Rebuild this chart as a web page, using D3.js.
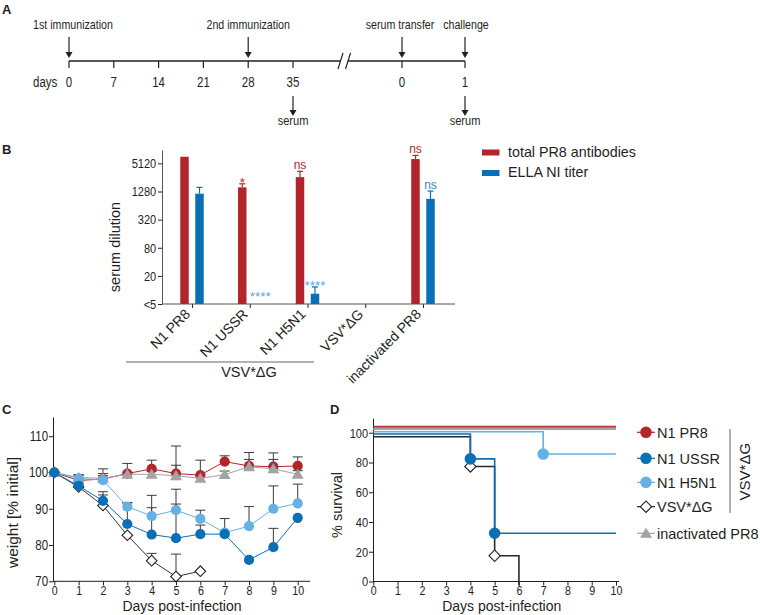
<!DOCTYPE html>
<html><head><meta charset="utf-8">
<script src="https://cdn.jsdelivr.net/npm/d3@7"></script>
<style>body{margin:0;background:#fff} svg{display:block}</style>
</head><body><svg id="c" width="760" height="615"></svg>
<script>
// ================= DATA =================
// Panel A – timeline
const timelineLeftDays = [0, 7, 14, 21, 28, 35];
const timelineRightDays = [0, 1];
const topEventLabels = ["1st immunization", "2nd immunization", "serum transfer", "challenge"];
const topEventPhase = ["L", "L", "R", "R"];
const topEventDays = [0, 28, 0, 1];
const serumPhase = ["L", "R"];
const serumDays = [35, 1];

// Panel B – serum titers
const groups = ["N1 PR8", "N1 USSR", "N1 H5N1", "VSV*ΔG", "inactivated PR8"];
const totalPR8 = [7100, 1570, 2600, null, 6330];
const totalPR8Upper = [null, 1870, 3460, null, 7590];
const ellaNI = [1150, null, 8.3, null, 890];
const ellaNIUpper = [1570, null, 11.6, null, 1310];
const totalSig = [null, "*", "ns", null, "ns"];
const ellaSig = [null, "****", "****", null, "ns"];
const titerTicks = [5, 20, 80, 320, 1280, 5120];
const titerTickLabels = ["<5", "20", "80", "320", "1280", "5120"];

// Panel C – weight (% initial), mean and upper SD
const days = [0, 1, 2, 3, 4, 5, 6, 7, 8, 9, 10];
const wN1PR8 = [100, 97.8, 98.2, 99.7, 101.0, 99.7, 99.3, 103.0, 101.8, 101.6, 101.8];
const eN1PR8 = [0, 1.6, 2.8, 2.8, 2.4, 7.6, 4.1, 1.6, 3.7, 3.8, 2.5];
const wInact = [100, 98.6, 98.4, 99.5, 99.5, 99.1, 98.4, 99.4, 101.6, 101.0, 99.5];
const eInact = [0, 0.8, 1.3, 0.6, 0.8, 2.9, 0.8, 1.0, 2.0, 2.6, 1.0];
const wH5N1 = [100, 98.4, 97.9, 90.6, 88.0, 89.6, 87.2, 83.4, 85.2, 90.0, 91.5];
const eH5N1 = [0, 0.8, 1.2, 1.0, 5.7, 5.8, 2.4, 3.9, 5.4, 6.3, 5.3];
const wUSSR = [100, 96.3, 92.2, 85.8, 82.9, 81.9, 83.0, 83.0, 75.9, 79.4, 87.5];
const eUSSR = [0, 0.6, 2.5, 5.9, 7.4, 9.4, 2.5, 0, 0, 5.2, 0];
const daysVSV = [0, 1, 2, 3, 4, 5, 6];
const wVSV = [100, 96.0, 90.9, 82.7, 75.7, 71.3, 72.8];
const eVSV = [0, 0.5, 2.9, 0, 2.0, 6.2, 0];
const weightTicks = [70, 80, 90, 100, 110];

// Panel D – survival (Kaplan–Meier steps)
const survT_N1PR8 = [0, 10], surv_N1PR8 = [100, 100];
const survT_USSR = [0, 4, 5, 10], surv_USSR = [100, 83.3, 33.3, 33.3];
const survT_H5N1 = [0, 7, 10], surv_H5N1 = [100, 85, 85];
const survT_VSV = [0, 4, 5, 6], surv_VSV = [100, 80, 20, 0];
const survT_Inact = [0, 10], surv_Inact = [100, 100];
const survTicks = [0, 20, 40, 60, 80, 100];
const dayTicks = [0, 1, 2, 3, 4, 5, 6, 7, 8, 9, 10];

// ================= STYLE =================
const RED = "#b3242b", DBLUE = "#0b6fb6", LBLUE = "#65b1e3", GREY = "#a3a3a3", INK = "#231f20";
const SIG_LBLUE = "#56a8df", SIG_BLUE = "#2f86c6";
const FONT = '"Liberation Sans", Arial, Helvetica, sans-serif';
function hasFont(name) {
  const c = document.createElement("canvas").getContext("2d");
  const s = "abcdefghijklmnopWWMMii0123";
  c.font = "40px monospace"; const a = c.measureText(s).width;
  c.font = `40px "${name}", monospace`; const b = c.measureText(s).width;
  return Math.abs(a - b) > 0.5;
}
const HAS_NARROW = hasFont("Liberation Sans Narrow");
const NARROW = '"Liberation Sans Narrow", "Arial Narrow", sans-serif';

const svg = d3.select("#c");

function text(parent, x, y, s, o = {}) {
  let tr = `translate(${x},${y})`;
  if (o.rotate) tr += ` rotate(${o.rotate})`;
  if (o.narrow && !HAS_NARROW) tr += " scale(0.82,1)";
  const t = parent.append("text").attr("transform", tr).text(s)
    .attr("font-family", o.narrow && HAS_NARROW ? NARROW : FONT)
    .attr("font-size", o.size || 14)
    .attr("text-anchor", o.anchor || "start")
    .attr("fill", o.fill || INK);
  if (o.bold) t.attr("font-weight", "bold");
  return t;
}
function styleAxis(g, size) {
  g.selectAll("path.domain").attr("stroke", INK).attr("stroke-width", 1);
  g.selectAll(".tick line").attr("stroke", INK).attr("stroke-width", 1);
  g.selectAll(".tick text").attr("fill", INK)
    .attr("font-family", HAS_NARROW ? NARROW : FONT).attr("font-size", size || 12)
    .attr("transform", HAS_NARROW ? null : "scale(0.82,1)");
}
function arrowDown(g, x, y1, y2) {
  g.append("line").attr("x1", x).attr("x2", x).attr("y1", y1).attr("y2", y2 - 5)
    .attr("stroke", INK).attr("stroke-width", 1.2);
  g.append("path").attr("d", `M${x - 3.5},${y2 - 6}L${x + 3.5},${y2 - 6}L${x},${y2}Z`).attr("fill", INK);
}

// ================= PANEL A =================
const gA = svg.append("g");
text(gA, 2, 14, "A", { bold: true, size: 13 });
const xAL = d3.scaleLinear().domain([0, 35]).range([69, 293]);
const xAR = d3.scaleLinear().domain([0, 1]).range([402, 465]);
const xA = (ph, d) => ph === "L" ? xAL(d) : xAR(d);
const lineY = 61;
gA.append("line").attr("x1", xAL(0)).attr("x2", 340.5).attr("y1", lineY).attr("y2", lineY).attr("stroke", INK).attr("stroke-width", 1.5);
gA.append("line").attr("x1", 348).attr("x2", xAR(1)).attr("y1", lineY).attr("y2", lineY).attr("stroke", INK).attr("stroke-width", 1.5);
gA.append("line").attr("x1", 338).attr("y1", 69).attr("x2", 343).attr("y2", 53).attr("stroke", INK).attr("stroke-width", 1.2);
gA.append("line").attr("x1", 345.5).attr("y1", 69).attr("x2", 350.5).attr("y2", 53).attr("stroke", INK).attr("stroke-width", 1.2);
timelineLeftDays.forEach(d => {
  gA.append("line").attr("x1", xAL(d)).attr("x2", xAL(d)).attr("y1", lineY).attr("y2", lineY + 7).attr("stroke", INK).attr("stroke-width", 1.2);
  text(gA, xAL(d), 87, String(d), { narrow: true, size: 14, anchor: "middle" });
});
timelineRightDays.forEach(d => {
  gA.append("line").attr("x1", xAR(d)).attr("x2", xAR(d)).attr("y1", lineY).attr("y2", lineY + 7).attr("stroke", INK).attr("stroke-width", 1.2);
  text(gA, xAR(d), 87, String(d), { narrow: true, size: 14, anchor: "middle" });
});
text(gA, 33, 87, "days", { narrow: true, size: 14 });
topEventLabels.forEach((lab, i) => {
  const x = xA(topEventPhase[i], topEventDays[i]);
  arrowDown(gA, x, 37, 58);
  const dx = i === 0 ? 4 : (i === 2 ? -2 : (i === 3 ? 1 : 0));
  text(gA, x + dx, 29, lab, { narrow: true, size: 13, anchor: "middle" });
});
serumDays.forEach((d, i) => {
  const x = xA(serumPhase[i], d);
  arrowDown(gA, x, 96, 116);
  text(gA, x, 125, "serum", { narrow: true, size: 13.5, anchor: "middle" });
});

// ================= PANEL B =================
const gB = svg.append("g");
text(gB, 2, 154, "B", { bold: true, size: 13 });
const yB = d3.scaleLog().domain([5, 9900]).range([304, 150]);
const xB = d3.scalePoint().domain(groups).range([192, 423]);
const bw = 8.5, off = 7.5;
const axBY = gB.append("g").attr("transform", "translate(162,0)")
  .call(d3.axisLeft(yB).tickValues(titerTicks).tickFormat((d, i) => titerTickLabels[i]).tickSize(4).tickSizeOuter(0).tickPadding(3));
styleAxis(axBY, 13.5);
axBY.selectAll("path.domain").attr("stroke", "#555");
const axBX = gB.append("g").attr("transform", "translate(0,304)")
  .call(d3.axisBottom(xB).tickSize(4).tickFormat(""));
axBX.select("path.domain").remove();
styleAxis(axBX);
gB.append("line").attr("x1", 162).attr("x2", 455).attr("y1", 304).attr("y2", 304).attr("stroke", "#555");

function barSeries(vals, uppers, sigs, dx, color, sigColorFn) {
  groups.forEach((g, i) => {
    const cx = xB(g) + dx;
    const v = vals[i];
    if (v != null) {
      gB.append("rect").attr("x", cx - bw / 2).attr("width", bw)
        .attr("y", yB(v)).attr("height", yB(5) - yB(v)).attr("fill", color);
    }
    const u = uppers[i];
    if (u != null) {
      gB.append("line").attr("x1", cx).attr("x2", cx).attr("y1", yB(v)).attr("y2", yB(u)).attr("stroke", color).attr("stroke-width", 1.2);
      gB.append("line").attr("x1", cx - 3).attr("x2", cx + 3).attr("y1", yB(u)).attr("y2", yB(u)).attr("stroke", color).attr("stroke-width", 1.2);
    }
    const s = sigs[i];
    if (s) {
      const ref = u != null ? yB(u) : (v != null ? yB(v) : null);
      let y, size;
      if (s === "ns") { y = ref - 2; size = 12; }
      else if (ref != null) { y = ref + 3.5; size = 13.5; }
      else { y = yB(5) - 3; size = 13.5; }
      const sx = (ref == null) ? cx + 3 : cx;
      text(gB, sx, y, s, { size, anchor: "middle", fill: sigColorFn(s) });
    }
  });
}
barSeries(totalPR8, totalPR8Upper, totalSig, -off, RED, () => RED);
barSeries(ellaNI, ellaNIUpper, ellaSig, off, DBLUE, s => s === "ns" ? SIG_BLUE : SIG_LBLUE);

groups.forEach(g => {
  text(gB, xB(g) - 1, 315, g, { size: 14, anchor: "end", rotate: -45 });
});
text(gB, 120, 247, "serum dilution", { size: 14.5, anchor: "middle", rotate: -90 });
gB.append("line").attr("x1", 126).attr("x2", 314).attr("y1", 362).attr("y2", 362).attr("stroke", "#999").attr("stroke-width", 1.5);
text(gB, 249, 376.5, "VSV*ΔG", { size: 14.5, anchor: "middle" });

// legend B
gB.append("rect").attr("x", 482).attr("y", 149.5).attr("width", 17.5).attr("height", 6).attr("fill", RED);
gB.append("rect").attr("x", 482).attr("y", 170).attr("width", 17.5).attr("height", 6).attr("fill", DBLUE);
text(gB, 508, 156.5, "total PR8 antibodies", { size: 14.3 });
text(gB, 508, 177, "ELLA NI titer", { size: 14.3 });

// ================= PANEL C =================
const gC = svg.append("g");
text(gC, 2, 414, "C", { bold: true, size: 13 });
const xC = d3.scaleLinear().domain([0, 10]).range([54.3, 297.7]);
const yC = d3.scaleLinear().domain([70, 115.3]).range([581.3, 417]);
const axCY = gC.append("g").attr("transform", "translate(53,0)")
  .call(d3.axisLeft(yC).tickValues(weightTicks).tickSize(4).tickSizeOuter(0).tickPadding(2));
styleAxis(axCY, 14);
const axCX = gC.append("g").attr("transform", "translate(0,581.3)")
  .call(d3.axisBottom(xC).tickValues(dayTicks).tickFormat(d3.format("d")).tickSize(4).tickPadding(0));
axCX.select("path.domain").remove();
styleAxis(axCX, 13);
gC.append("line").attr("x1", 53).attr("x2", 310).attr("y1", 581.3).attr("y2", 581.3).attr("stroke", INK);
text(gC, 182, 611, "Days post-infection", { size: 14, anchor: "middle" });
text(gC, 18, 512.5, "weight [% initial]", { size: 15.5, anchor: "middle", rotate: -90 });

const symCircle = d3.symbol(d3.symbolCircle, 82)();
const symDiamond = d3.symbol(d3.symbolSquare, 56)();
const symTri = d3.symbol(d3.symbolTriangle, 62)();
const symCircleD = d3.symbol(d3.symbolCircle, 105)();
const symDiamondD = d3.symbol(d3.symbolSquare, 64)();

const weightSeries = [
  { x: daysVSV, m: wVSV, e: eVSV, stroke: "#333", fill: "#fff", sym: "diamond" },
  { x: days, m: wN1PR8, e: eN1PR8, stroke: RED, fill: RED, sym: "circle" },
  { x: days, m: wInact, e: eInact, stroke: GREY, fill: GREY, sym: "tri" },
  { x: days, m: wH5N1, e: eH5N1, stroke: LBLUE, fill: LBLUE, sym: "circle" },
  { x: days, m: wUSSR, e: eUSSR, stroke: DBLUE, fill: DBLUE, sym: "circle" }
];
function drawSym(g, x, y, sym, fill, stroke, big) {
  if (sym === "circle") g.append("path").attr("d", big ? symCircleD : symCircle).attr("transform", `translate(${x},${y})`).attr("fill", fill);
  else if (sym === "diamond") g.append("path").attr("d", big ? symDiamondD : symDiamond).attr("transform", `translate(${x},${y}) rotate(45)`).attr("fill", "#fff").attr("stroke", "#222").attr("stroke-width", 1.1);
  else g.append("path").attr("d", symTri).attr("transform", `translate(${x},${y + 1})`).attr("fill", fill);
}
// error bars behind
weightSeries.forEach(s => {
  s.x.forEach((d, i) => {
    if (!s.e[i]) return;
    const y0 = yC(s.m[i]), y1 = yC(s.m[i] + s.e[i]), x = xC(d);
    gC.append("line").attr("x1", x).attr("x2", x).attr("y1", y0).attr("y2", y1).attr("stroke", "#3a3a3a").attr("stroke-width", 1);
    gC.append("line").attr("x1", x - 5).attr("x2", x + 5).attr("y1", y1).attr("y2", y1).attr("stroke", "#3a3a3a").attr("stroke-width", 1);
  });
});
weightSeries.forEach(s => {
  const pts = s.x.map((d, i) => [xC(d), yC(s.m[i])]);
  gC.append("path").attr("d", d3.line()(pts)).attr("fill", "none").attr("stroke", s.stroke).attr("stroke-width", 1);
  pts.forEach(p => drawSym(gC, p[0], p[1], s.sym, s.fill, s.stroke, false));
});

// ================= PANEL D =================
const gD = svg.append("g");
text(gD, 330, 414, "D", { bold: true, size: 13 });
const xD = d3.scaleLinear().domain([0, 10]).range([373.3, 616]);
const yD = d3.scaleLinear().domain([0, 109.7]).range([581.5, 418.3]);
const axDY = gD.append("g").attr("transform", "translate(373,0)")
  .call(d3.axisLeft(yD).tickValues(survTicks).tickSize(4).tickSizeOuter(0).tickPadding(2));
styleAxis(axDY, 13.5);
const axDX = gD.append("g").attr("transform", "translate(0,581.5)")
  .call(d3.axisBottom(xD).tickValues(dayTicks).tickFormat(d3.format("d")).tickSize(4).tickPadding(0));
axDX.select("path.domain").remove();
styleAxis(axDX, 13);
gD.append("line").attr("x1", 373).attr("x2", 619).attr("y1", 581.5).attr("y2", 581.5).attr("stroke", INK);
text(gD, 501.7, 611, "Days post-infection", { size: 14, anchor: "middle" });
text(gD, 342, 505, "% survival", { size: 14.5, anchor: "middle", rotate: -90 });

const survSeries = [
  { t: survT_VSV, v: surv_VSV, color: "#2a2a2a", dy: 4, w: 1.6, sym: "diamond" },
  { t: survT_USSR, v: surv_USSR, color: DBLUE, dy: 1.3, w: 1.6, sym: "circle" },
  { t: survT_H5N1, v: surv_H5N1, color: LBLUE, dy: -1, w: 1.6, sym: "circle" },
  { t: survT_Inact, v: surv_Inact, color: GREY, dy: -3.7, w: 2, sym: "tri" },
  { t: survT_N1PR8, v: surv_N1PR8, color: "#b8353b", dy: -6, w: 2, sym: "circle" }
];
survSeries.forEach(s => {
  const pts = s.t.map((d, i) => [xD(d), yD(s.v[i]) + s.dy]);
  gD.append("path").attr("d", d3.line().curve(d3.curveStepAfter)(pts)).attr("fill", "none").attr("stroke", s.color).attr("stroke-width", s.w);
});
survSeries.forEach(s => {
  for (let i = 1; i < s.t.length - 1; i++) {
    drawSym(gD, xD(s.t[i]), yD(s.v[i]) + s.dy, s.sym, s.color, s.color, true);
  }
});

// legend D
const legNames = ["N1 PR8", "N1 USSR", "N1 H5N1", "VSV*ΔG", "inactivated PR8"];
const legColors = [RED, DBLUE, LBLUE, "#222", GREY];
const legSyms = ["circle", "circle", "circle", "diamond", "tri"];
const legY = [432.3, 458.3, 482.3, 506.7, 533.3];
legNames.forEach((n, i) => {
  const y = legY[i];
  gD.append("line").attr("x1", 637).attr("x2", 655).attr("y1", y).attr("y2", y).attr("stroke", legColors[i]).attr("stroke-width", 1.2);
  drawSym(gD, 646, y, legSyms[i], legColors[i], legColors[i], true);
  text(gD, 657, y + 5.5, n, { size: 14.5 });
});
gD.append("line").attr("x1", 730).attr("x2", 730).attr("y1", 429).attr("y2", 513).attr("stroke", "#999").attr("stroke-width", 1.5);
text(gD, 750, 471.7, "VSV*ΔG", { size: 15, anchor: "middle", rotate: -90 });
</script></body></html>
